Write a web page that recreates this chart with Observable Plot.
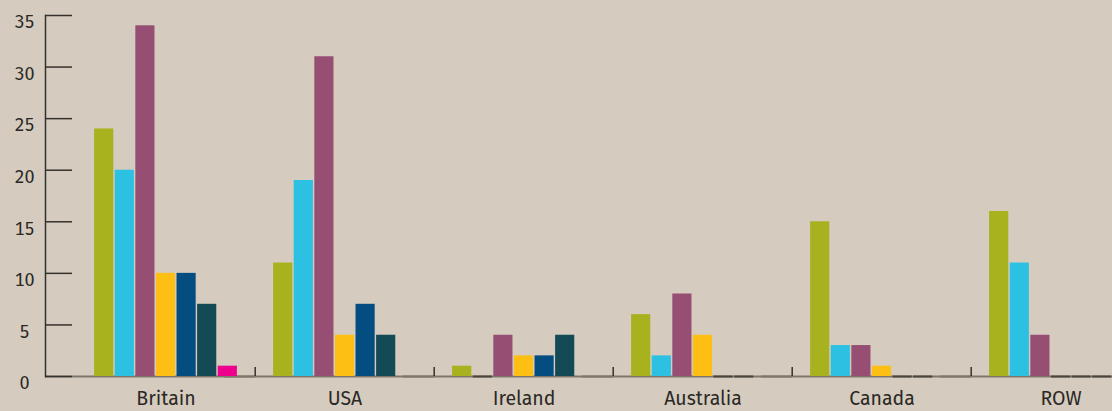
<!DOCTYPE html>
<html><head><meta charset="utf-8">
<script src="https://cdn.jsdelivr.net/npm/d3@7"></script>
<script src="https://cdn.jsdelivr.net/npm/@observablehq/plot@0.6"></script>
<style>
html,body{margin:0;padding:0;background:#d5ccbf;}
#chart{width:1112px;height:411px;overflow:hidden;}
</style></head><body><div id="chart"></div>
<script>
const groups = ["Britain", "USA", "Ireland", "Australia", "Canada", "ROW"];
const series = ["Series 1", "Series 2", "Series 3", "Series 4", "Series 5", "Series 6", "Series 7"];
const colors = ["#a8b11e", "#2cc1e3", "#964f72", "#fdbf14", "#034d80", "#144a56", "#ec008c"];
const britain   = [24, 20, 34, 10, 10, 7, 1];
const usa       = [11, 19, 31, 4, 7, 4, 0];
const ireland   = [1, 0, 4, 2, 2, 4, 0];
const australia = [6, 2, 8, 4, 0, 0, 0];
const canada    = [15, 3, 3, 1, 0, 0, 0];
const row       = [16, 11, 4, 0, 0, 0, 0];
const yTicks = [0, 5, 10, 15, 20, 25, 30, 35];

const values = [britain, usa, ireland, australia, canada, row];
const data = groups.flatMap((g, i) => series.map((s, j) => ({group: g, series: s, value: values[i][j]})));

const ink = "#2b2825";
const chart = Plot.plot({
  width: 1112, height: 411,
  marginLeft: 74, marginRight: -40, marginTop: 15, marginBottom: 35,
  style: {background: "#d5ccbf", fontFamily: "'Fira Sans','Noto Sans',sans-serif", fontSize: "18px", color: ink, overflow: "hidden"},
  fx: {domain: groups, padding: 0, label: null},
  x: {domain: series, paddingInner: 0.07, paddingOuter: 0.88, axis: null, round: false},
  y: {domain: [0, 35]},
  color: {domain: series, range: colors},
  marks: [
    Plot.ruleY([0], {stroke: "#7f776c", strokeWidth: 2, insetLeft: -31}),
    Plot.barY(data, {fx: "group", x: "series", y: "value", fill: "series"}),
    Plot.tickY(data.filter(d => d.value === 0 && d.series !== "Series 7"), {fx: "group", x: "series", y: "value", stroke: "#4a443d", strokeWidth: 2}),
    Plot.axisY(yTicks, {anchor: "left", tickSize: 0, tickPadding: 21, dx: -31, dy: 7, textAnchor: "middle", label: null, fontSize: 18, fill: ink}),
    Plot.axisY(yTicks, {anchor: "left", tickSize: -27, fill: "none", dx: -31, label: null, stroke: "#35312c", strokeWidth: 1.5}),
    Plot.frame({anchor: "left", dx: -31, facetAnchor: "left", stroke: "#35312c", strokeWidth: 1.5}),
    Plot.axisFx({anchor: "bottom", tickSize: 0, tickPadding: 15, label: null, fontSize: 19.5, fill: ink}),
    Plot.axisFx({ticks: groups.slice(1), anchor: "bottom", tickSize: -9, fill: "none", dx: -89.8, label: null, stroke: "#35312c", strokeWidth: 1.5})
  ]
});
document.getElementById("chart").appendChild(chart);
</script>
</body></html>
